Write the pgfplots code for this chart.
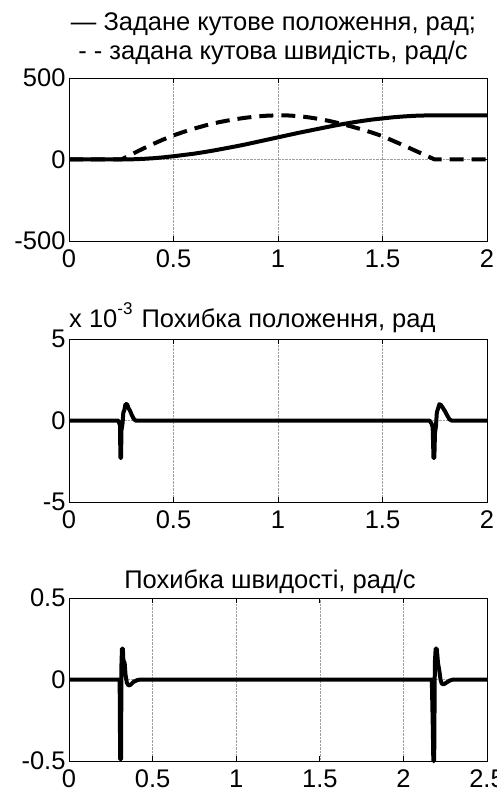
\documentclass[border=0pt]{standalone}
\usepackage{fontspec}
\setmainfont{Liberation Sans}
\usepackage{pgfplots}
\pgfplotsset{compat=1.18}

\newcommand{\lbl}{\fontsize{25.5}{30}\selectfont}

\pgfplotsset{
  matlab/.style={
    scale only axis, width=418pt, height=163pt, anchor=north west,
    axis line style={line width=0.9pt},
    tick align=inside, major tick length=5pt,
    xtick pos=both, ytick pos=both,
    every tick/.style={black, line width=0.9pt},
    xmajorgrids, ymajorgrids,
    grid style={densely dotted, gray!75, line width=0.6pt},
    tick label style={font=\lbl},
    xticklabel style={yshift=-5pt},
    clip=false,
  },
  sig/.style={black, line width=4pt, line join=round},
}

\begin{document}
\begin{tikzpicture}

% --- set-points: angular position (solid) and angular velocity (dashed)
\node[anchor=base, font=\lbl] at (273.5pt,-31pt) {— Задане кутове положення, рад;};
\node[anchor=base, font=\lbl] at (273pt,-60pt) {- - задана кутова швидість, рад/с};
\begin{axis}[matlab, at={(69pt,-78pt)},
  xmin=0, xmax=2, ymin=-500, ymax=500,
  xtick={0,0.5,1,1.5,2}, xticklabels={0,0.5,1,1.5,2},
  ytick={-500,0,500}, yticklabels={-500,0,500}]
\addplot[sig] coordinates {
  (0,0) (0.25,0) (0.30,1) (0.35,3.5) (0.40,7.5) (0.45,13) (0.50,20)
  (0.55,28) (0.60,36) (0.65,46) (0.70,57) (0.75,69) (0.80,81)
  (0.85,94) (0.90,108) (0.95,122) (1.00,136) (1.05,150) (1.10,164)
  (1.15,177) (1.20,190) (1.25,203) (1.30,215) (1.35,226) (1.40,236)
  (1.45,245) (1.50,252) (1.55,259) (1.60,264) (1.65,268) (1.70,270)
  (1.75,271) (2.00,271)};
\addplot[sig, dash pattern=on 14pt off 8pt] coordinates {
  (0,0) (0.25,0) (0.30,32) (0.35,64) (0.40,94) (0.45,122) (0.50,148)
  (0.55,170) (0.60,190) (0.65,208) (0.70,224) (0.75,237) (0.80,248)
  (0.85,257) (0.90,264) (0.95,269) (1.00,271) (1.05,270) (1.10,266)
  (1.15,258) (1.20,248) (1.25,235) (1.30,220) (1.35,203) (1.40,185)
  (1.45,165) (1.50,143) (1.55,115) (1.60,87) (1.65,58) (1.70,29)
  (1.75,0) (2.00,0)};
\end{axis}

% --- position error, x 10^-3 rad
\node[anchor=base west, font=\lbl, inner sep=0pt] at (69pt,-327pt)
  {x 10\raisebox{13pt}{\fontsize{17}{18}\selectfont -3}};
\node[anchor=base, font=\lbl] at (288.5pt,-327pt) {Похибка положення, рад};
\begin{axis}[matlab, at={(69pt,-339pt)},
  xmin=0, xmax=2, ymin=-5, ymax=5,
  xtick={0,0.5,1,1.5,2}, xticklabels={0,0.5,1,1.5,2},
  ytick={-5,0,5}, yticklabels={-5,0,5}]
\addplot[sig] coordinates {
  (0,0) (0.236,0) (0.240,-0.15) (0.244,-0.3) (0.246,-2.3) (0.249,-2.3)
  (0.251,-0.6) (0.256,-0.2) (0.260,0.5) (0.264,0.6) (0.270,1.0)
  (0.278,1.0) (0.285,0.75) (0.292,0.6) (0.300,0.35) (0.310,0.1)
  (0.318,0) (1.725,0) (1.735,-0.2) (1.740,-0.4) (1.744,-2.3)
  (1.748,-2.3) (1.751,-0.8) (1.756,-0.3) (1.760,0.5) (1.765,0.7)
  (1.772,1.0) (1.780,0.95) (1.790,0.75) (1.800,0.55) (1.810,0.3)
  (1.820,0.08) (1.830,0) (2.00,0)};
\end{axis}

% --- velocity error, rad/s
\node[anchor=base, font=\lbl] at (270pt,-588pt) {Похибка швидості, рад/с};
\begin{axis}[matlab, at={(69pt,-598pt)},
  xmin=0, xmax=2.5, ymin=-0.5, ymax=0.5,
  xtick={0,0.5,1,1.5,2,2.5}, xticklabels={0,0.5,1,1.5,2,2.5},
  ytick={-0.5,0,0.5}, yticklabels={-0.5,0,0.5}]
\addplot[sig] coordinates {
  (0,0) (0.303,0) (0.306,-0.49) (0.311,-0.49) (0.314,0.1) (0.317,0.19)
  (0.322,0.19) (0.325,0.12) (0.333,0.1) (0.338,0.03) (0.346,-0.02)
  (0.356,-0.037) (0.368,-0.033) (0.385,-0.015) (0.41,-0.003) (0.43,0)
  (2.170,0) (2.176,-0.3) (2.179,-0.5) (2.184,-0.5) (2.188,0.1)
  (2.193,0.19) (2.199,0.19) (2.203,0.15) (2.207,0.1) (2.214,0.06)
  (2.222,0) (2.229,-0.025) (2.240,-0.03) (2.259,-0.018) (2.278,-0.006)
  (2.298,0) (2.50,0)};
\end{axis}

\pgfresetboundingbox
\useasboundingbox (0pt,0pt) rectangle (496pt,-802pt);
\end{tikzpicture}
\end{document}
